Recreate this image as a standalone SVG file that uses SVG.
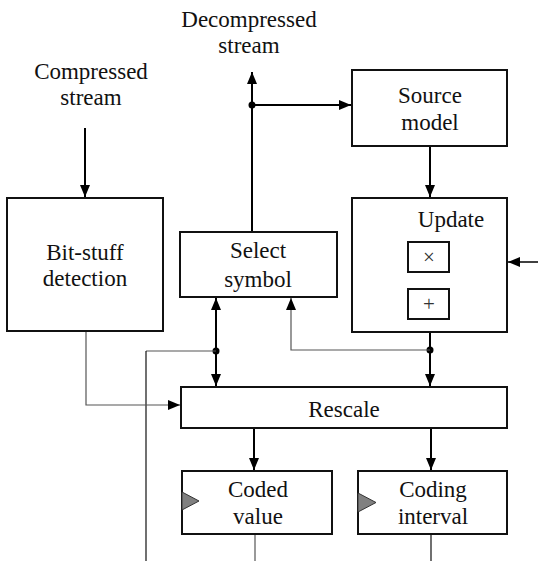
<svg xmlns="http://www.w3.org/2000/svg" width="538" height="561" viewBox="0 0 538 561">
<style>
  text { font-family: "Liberation Serif", "Times New Roman", serif; font-size: 23px; fill: #111; text-anchor: middle; }
  .box { fill: #fff; stroke: #111; stroke-width: 2; }
  .small { fill: #fff; stroke: #111; stroke-width: 2; }
  .thick { fill: none; stroke: #000; stroke-width: 2; }
  .thin { fill: none; stroke: #555; stroke-width: 1.2; }
  .thinb { fill: none; stroke: #111; stroke-width: 1.2; }
  .tri { fill: #808080; stroke: #333; stroke-width: 1; }
  .op { font-size: 21px; fill: #333; }
</style>
<defs>
  <marker id="arr" viewBox="0 0 12 10" refX="12" refY="5" markerWidth="12" markerHeight="10" markerUnits="userSpaceOnUse" orient="auto">
    <path d="M0,0 L12,5 L0,10 z" fill="#000"/>
  </marker>
</defs>

<g id="labels">
  <text x="249" y="27">Decompressed</text>
  <text x="249" y="53">stream</text>
  <text x="91" y="79">Compressed</text>
  <text x="91" y="105">stream</text>
</g>

<g id="connectors">
  <path class="thick" d="M85,128 V197" marker-end="url(#arr)"/>
  <path class="thick" d="M252,232 V72" marker-end="url(#arr)"/>
  <path class="thick" d="M252,105 H351" marker-end="url(#arr)"/>
  <circle cx="252" cy="105" r="3.5" fill="#000"/>
  <path class="thick" d="M430,146 V197" marker-end="url(#arr)"/>
  <path class="thick" d="M538,262 H508" marker-end="url(#arr)" style="stroke-width:1.5"/>
  <path class="thick" d="M430,332 V386" marker-end="url(#arr)"/>
  <circle cx="430" cy="350" r="3.5" fill="#000"/>
  <path class="thin" d="M430,350 H291 V298" marker-end="url(#arr)"/>
  <path class="thick" d="M216,351 V298" marker-end="url(#arr)"/>
  <path class="thick" d="M216,351 V386" marker-end="url(#arr)"/>
  <circle cx="216" cy="351" r="3.5" fill="#000"/>
  <path class="thin" d="M216,351 H146"/>
  <path class="thinb" d="M146,351 V561"/>
  <path class="thin" d="M86,331 V405 H180" marker-end="url(#arr)"/>
  <path class="thick" d="M254,428 V470" marker-end="url(#arr)"/>
  <path class="thick" d="M431,428 V470" marker-end="url(#arr)"/>
  <path class="thin" d="M255,534 V561"/>
  <path class="thinb" d="M431,534 V561"/>
</g>

<g id="source-model">
  <rect class="box" x="352" y="70" width="155" height="76"/>
  <text x="430" y="103">Source</text>
  <text x="430" y="130">model</text>
</g>

<g id="bit-stuff">
  <rect class="box" x="7" y="198" width="156" height="133"/>
  <text x="85" y="260">Bit-stuff</text>
  <text x="85" y="286">detection</text>
</g>

<g id="select-symbol">
  <rect class="box" x="180" y="232" width="157" height="65"/>
  <text x="258" y="258">Select</text>
  <text x="258" y="287">symbol</text>
</g>

<g id="update">
  <rect class="box" x="352" y="198" width="155" height="134"/>
  <text x="451" y="227">Update</text>
  <rect class="small" x="408" y="242" width="41" height="30"/>
  <text class="op" x="429" y="264">×</text>
  <rect class="small" x="408" y="289" width="41" height="30"/>
  <text class="op" x="429" y="311">+</text>
</g>

<g id="rescale">
  <rect class="box" x="181" y="387" width="326" height="41"/>
  <text x="344" y="417">Rescale</text>
</g>

<g id="coded-value">
  <rect class="box" x="182" y="471" width="150" height="63"/>
  <polygon class="tri" points="182,492 199,501 182,510"/>
  <text x="258" y="497">Coded</text>
  <text x="258" y="524">value</text>
</g>

<g id="coding-interval">
  <rect class="box" x="358" y="471" width="149" height="63"/>
  <polygon class="tri" points="358,493 376,502.5 358,512"/>
  <text x="433" y="497">Coding</text>
  <text x="433" y="524">interval</text>
</g>
</svg>
